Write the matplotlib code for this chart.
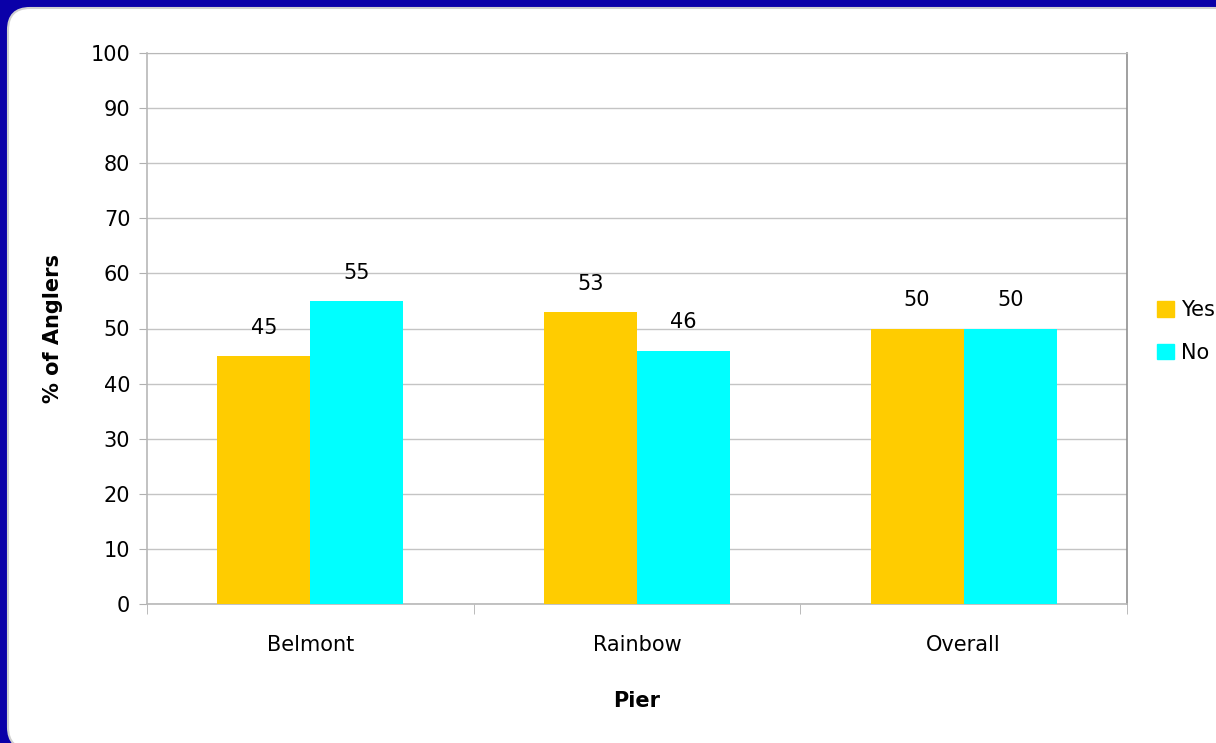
"""Pier survey: share of anglers answering yes / no, by pier."""

import matplotlib

matplotlib.use("Agg")
import matplotlib.pyplot as plt
import numpy as np
from matplotlib.patches import FancyBboxPatch, Patch

PIERS = ["Belmont", "Rainbow", "Overall"]
YES_VALUES = [45, 53, 50]
NO_VALUES = [55, 46, 50]
SERIES_NAMES = ["Yes", "No"]

YES_COLOR = "#FFCC00"
NO_COLOR = "#00FFFF"
BG_COLOR = "#0A00A8"
FONT = "DejaVu Sans"

W, H = 1216, 743


def main() -> None:
    plt.rcParams["font.family"] = FONT
    fig = plt.figure(figsize=(W / 100, H / 100), dpi=100, facecolor=BG_COLOR)

    # white rounded panel sitting on the blue background
    panel = FancyBboxPatch(
        (8 / W, -6 / H),
        (W + 40) / W,
        (H - 8 + 6) / H,
        boxstyle="round,pad=0,rounding_size=0.018",
        transform=fig.transFigure,
        facecolor="white",
        edgecolor="#d0d0d0",
        linewidth=1.5,
        mutation_aspect=W / H,
        zorder=-10,
    )
    fig.patches.append(panel)

    ax = fig.add_axes([147 / W, 1 - 604 / H, 980 / W, 551 / H])
    ax.set_facecolor("white")

    x = np.arange(len(PIERS))
    width = 0.285
    bars_yes = ax.bar(x - width / 2, YES_VALUES, width, color=YES_COLOR, zorder=3)
    bars_no = ax.bar(x + width / 2, NO_VALUES, width, color=NO_COLOR, zorder=3)

    for bars in (bars_yes, bars_no):
        for bar in bars:
            ax.annotate(
                f"{bar.get_height():.0f}",
                (bar.get_x() + bar.get_width() / 2, bar.get_height()),
                xytext=(0, 13),
                textcoords="offset points",
                ha="center",
                va="bottom",
                fontsize=15,
                color="black",
            )

    ax.set_xlim(-0.5, len(PIERS) - 0.5)
    ax.set_ylim(0, 100)
    ax.set_yticks(np.arange(0, 101, 10))
    ax.tick_params(axis="y", labelsize=15, length=6, color="#b0b0b0", pad=6)
    ax.set_xticks(x)
    ax.set_xticklabels(PIERS)
    ax.tick_params(axis="x", which="major", length=0, labelsize=15, pad=22)
    ax.set_xticks(np.arange(-0.5, len(PIERS), 1.0), minor=True)
    ax.tick_params(axis="x", which="minor", length=7, color="#b0b0b0")

    ax.grid(axis="y", color="#c4c4c4", linewidth=1, zorder=0)
    ax.set_axisbelow(True)
    for side in ("left", "bottom"):
        ax.spines[side].set_color("#b8b8b8")
        ax.spines[side].set_linewidth(1.2)
    ax.spines["right"].set_color("#909090")
    ax.spines["right"].set_linewidth(1.2)
    ax.spines["top"].set_color("#b8b8b8")

    ax.set_ylabel("% of Anglers", fontsize=15, fontweight="bold", labelpad=20)
    ax.set_xlabel("Pier", fontsize=15, fontweight="bold", labelpad=26)

    handles = [Patch(color=YES_COLOR), Patch(color=NO_COLOR)]
    ax.legend(
        handles,
        SERIES_NAMES,
        loc="center left",
        bbox_to_anchor=(1.022, 0.495),
        frameon=False,
        fontsize=15,
        handlelength=0.8,
        handleheight=0.8,
        handletextpad=0.35,
        labelspacing=1.1,
        borderaxespad=0,
    )

    fig.savefig("out.png", dpi=100, facecolor=BG_COLOR)
    plt.close(fig)


if __name__ == "__main__":
    main()
